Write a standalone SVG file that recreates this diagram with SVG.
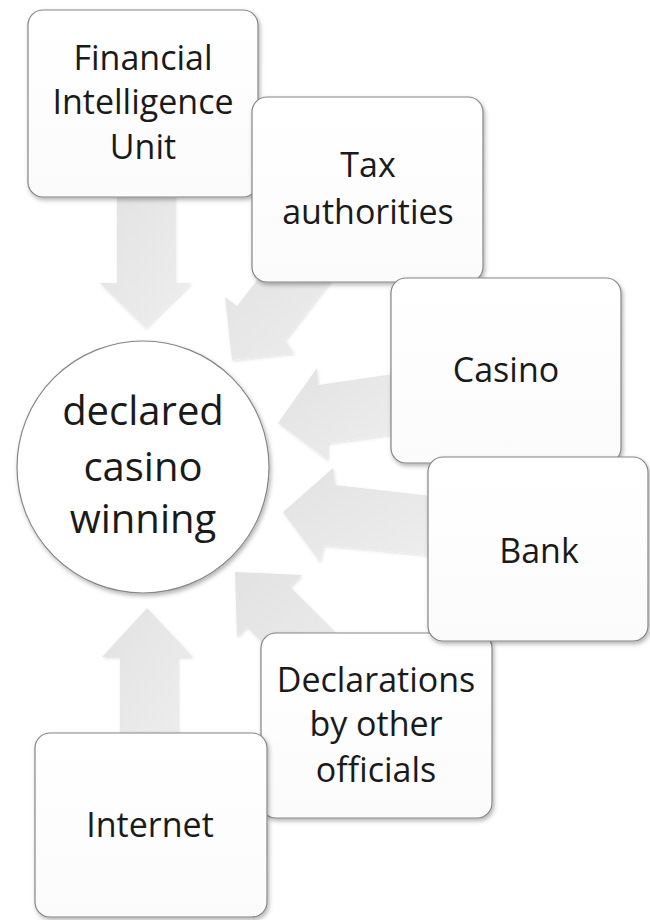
<svg xmlns="http://www.w3.org/2000/svg" width="650" height="920" viewBox="0 0 650 920">
<style>
.box{fill:url(#boxGrad);stroke:#858585;stroke-width:1.2;filter:url(#shadow)}
.arrow{fill:url(#arrGrad);filter:url(#ashadow)}
.t{font-family:"Open Sans","Noto Sans","Liberation Sans",sans-serif;font-size:34px;fill:#1a1a1a;text-anchor:middle}
.ct{font-family:"Open Sans","Noto Sans","Liberation Sans",sans-serif;font-size:40px;fill:#1a1a1a;text-anchor:middle}
</style>
<defs>
<linearGradient id="boxGrad" x1="0" y1="0" x2="0" y2="1">
<stop offset="0" stop-color="#ffffff"/>
<stop offset="1" stop-color="#fbfbfb"/>
</linearGradient>
<linearGradient id="arrGrad" x1="0" y1="0" x2="1" y2="1">
<stop offset="0" stop-color="#e2e2e2"/>
<stop offset="1" stop-color="#eeeeee"/>
</linearGradient>
<filter id="shadow" x="-10%" y="-10%" width="125%" height="125%">
<feDropShadow dx="1.5" dy="2.5" stdDeviation="2" flood-color="#000" flood-opacity="0.3"/>
</filter>
<filter id="ashadow" x="-10%" y="-10%" width="125%" height="125%">
<feDropShadow dx="1" dy="1.5" stdDeviation="1.5" flood-color="#000" flood-opacity="0.12"/>
</filter>
</defs>
<rect width="650" height="920" fill="#ffffff"/>
<g id="connectors">
<polygon class="arrow" points="117,185 175,185 175,283 191,283 145.5,328 100,283 117,283"/>
<polygon class="arrow" points="232,360 225,297 237,306 280,251 355,249 285,340 294,353"/>
<polygon class="arrow" points="278,423 317,368 318,385 400,373 400,433 328,443 328,460"/>
<polygon class="arrow" points="283,512 333,468 335,485 440,497 440,556 324,545 320,562"/>
<polygon class="arrow" points="235,572 302,575 290,587 362,659 318,700 247,627 237,637"/>
<polygon class="arrow" points="147,608 193,657 178,657 178,745 120,745 120,657 102,657"/>
</g>
<g id="center">
<circle cx="143" cy="467" r="126" fill="#ffffff" stroke="#858585" stroke-width="1.2" filter="url(#shadow)"/>
<text class="ct" x="143" y="425">declared</text>
<text class="ct" x="143" y="481">casino</text>
<text class="ct" x="143" y="533">winning</text>
</g>
<g id="fiu">
<rect class="box" x="28" y="10" width="230" height="187" rx="15"/>
<text class="t" x="143" y="70">Financial</text>
<text class="t" x="143" y="114">Intelligence</text>
<text class="t" x="143" y="159">Unit</text>
</g>
<g id="tax">
<rect class="box" x="252" y="97" width="231" height="185" rx="15"/>
<text class="t" x="368" y="177">Tax</text>
<text class="t" x="368" y="224">authorities</text>
</g>
<g id="casino">
<rect class="box" x="391" y="278" width="230" height="185" rx="15"/>
<text class="t" x="506" y="382">Casino</text>
</g>
<g id="declarations">
<rect class="box" x="261" y="633" width="231" height="185" rx="15"/>
<text class="t" x="376" y="692">Declarations</text>
<text class="t" x="376" y="736">by other</text>
<text class="t" x="376" y="782">officials</text>
</g>
<g id="bank">
<rect class="box" x="428" y="457" width="220" height="184" rx="15"/>
<text class="t" x="539" y="563">Bank</text>
</g>
<g id="internet">
<rect class="box" x="35" y="733" width="232" height="184" rx="15"/>
<text class="t" x="150" y="837">Internet</text>
</g>
</svg>
